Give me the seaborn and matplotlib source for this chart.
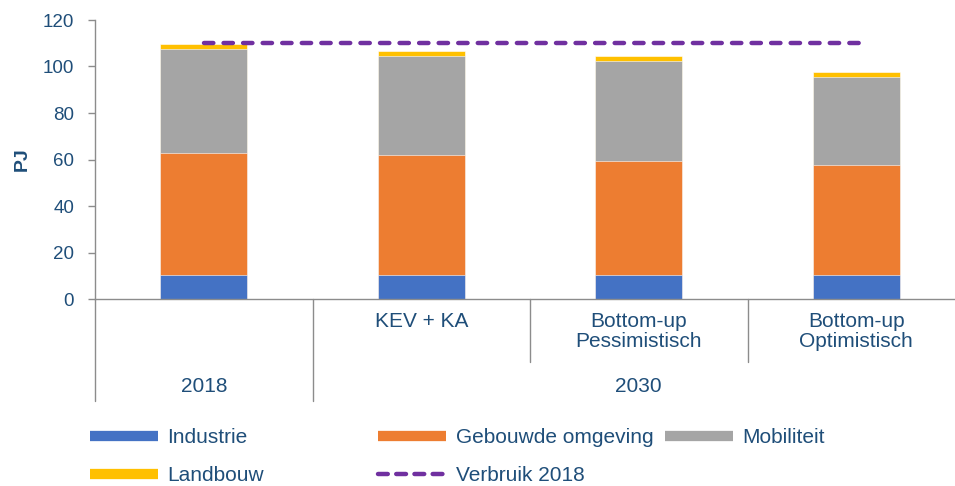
import numpy as np
import pandas as pd
import matplotlib
matplotlib.use("Agg")
import matplotlib.pyplot as plt
from matplotlib.lines import Line2D
import seaborn as sns

# ── Data ─────────────────────────────────────
scenarios = ["2018", "KEV + KA", "Bottom-up\nPessimistisch", "Bottom-up\nOptimistisch"]
top_labels = ["", "KEV + KA", "Bottom-up\nPessimistisch", "Bottom-up\nOptimistisch"]
group_labels = ["2018", "2030"]
industrie = [10.2, 10.5, 10.5, 10.5]
gebouwde_omgeving = [52.7, 51.6, 49.0, 47.3]
mobiliteit = [44.6, 42.6, 43.0, 37.7]
landbouw = [2.2, 2.0, 2.0, 2.1]
verbruik_2018 = 110

series_names = ["Industrie", "Gebouwde omgeving", "Mobiliteit", "Landbouw"]
colors = ["#4472C4", "#ED7D31", "#A5A5A5", "#FFC000"]
line_color = "#7030A0"
text_color = "#1F4E79"
axis_color = "#8C8C8C"

df = pd.DataFrame({
    "scenario": scenarios,
    "Industrie": industrie,
    "Gebouwde omgeving": gebouwde_omgeving,
    "Mobiliteit": mobiliteit,
    "Landbouw": landbouw,
})
# cumulative sums for the overplotted stack
cum = df[series_names].cumsum(axis=1)

sns.set_style("white")
plt.rcParams["font.family"] = ["Liberation Sans", "DejaVu Sans"]

fig = plt.figure(figsize=(9.55, 4.86), dpi=100)
ax = fig.add_axes([95 / 955, 187 / 486, 870 / 955, 279 / 486])

# ── Stacked bars (largest first, then overplot) ──
for name, col in reversed(list(zip(series_names, colors))):
    sns.barplot(x=df["scenario"], y=cum[name], order=scenarios, color=col,
                width=0.4, saturation=1, edgecolor="white", linewidth=0.4, ax=ax)

# reference line: Verbruik 2018
ax.plot([0, 3.02], [verbruik_2018, verbruik_2018], color=line_color, lw=3.2,
        dashes=(2.1, 2.3), dash_capstyle="round")

ax.set_xlim(-0.5, 3.5)
ax.set_ylim(0, 120)
ax.set_yticks(np.arange(0, 121, 20))
ax.set_ylabel("PJ", color=text_color, fontsize=14, fontweight="bold", labelpad=9)
ax.set_xlabel("")
ax.set_xticks([])
ax.tick_params(axis="y", colors=axis_color, labelcolor=text_color, labelsize=13.5,
               left=True, length=5, width=1, direction="out", pad=10)

for s in ["top", "right"]:
    ax.spines[s].set_visible(False)
for s in ["left", "bottom"]:
    ax.spines[s].set_color(axis_color)
    ax.spines[s].set_linewidth(1)

# ── Multi-level category axis ────────────────
trans = ax.get_xaxis_transform()
for x, lab in enumerate(top_labels):
    ax.text(x, -0.045, lab, transform=trans, ha="center", va="top",
            fontsize=15, color=text_color, linespacing=1.1)
ax.text(0, -0.315, group_labels[0], transform=trans, ha="center", va="center",
        fontsize=15, color=text_color)
ax.text(2, -0.315, group_labels[1], transform=trans, ha="center", va="center",
        fontsize=15, color=text_color)
for x, depth in [(-0.5, -0.365), (0.5, -0.365), (1.5, -0.225), (2.5, -0.225)]:
    ax.plot([x, x], [0, depth], transform=trans, color=axis_color, lw=1, clip_on=False)

# ── Legend (three fixed-width columns) ───────
def patch(c):
    return Line2D([0], [0], color=c, lw=7.4, solid_capstyle="butt")

cols = [
    ([patch(colors[0]), patch(colors[3])], ["Industrie", "Landbouw"], 90),
    ([patch(colors[1]), Line2D([0], [0], color=line_color, lw=3.2, dashes=(2.2, 1.9),
                               dash_capstyle="round")],
     ["Gebouwde omgeving", "Verbruik 2018"], 378),
    ([patch(colors[2])], ["Mobiliteit"], 665),
]
for handles, labels, xpx in cols:
    fig.legend(handles, labels, loc="upper left", bbox_to_anchor=(xpx / 955, 1 - 428 / 486),
               frameon=False, fontsize=15, handlelength=3.27, handletextpad=0.45,
               labelspacing=0.92, borderpad=0, borderaxespad=0, labelcolor=text_color)

fig.savefig("out.png", dpi=100)
